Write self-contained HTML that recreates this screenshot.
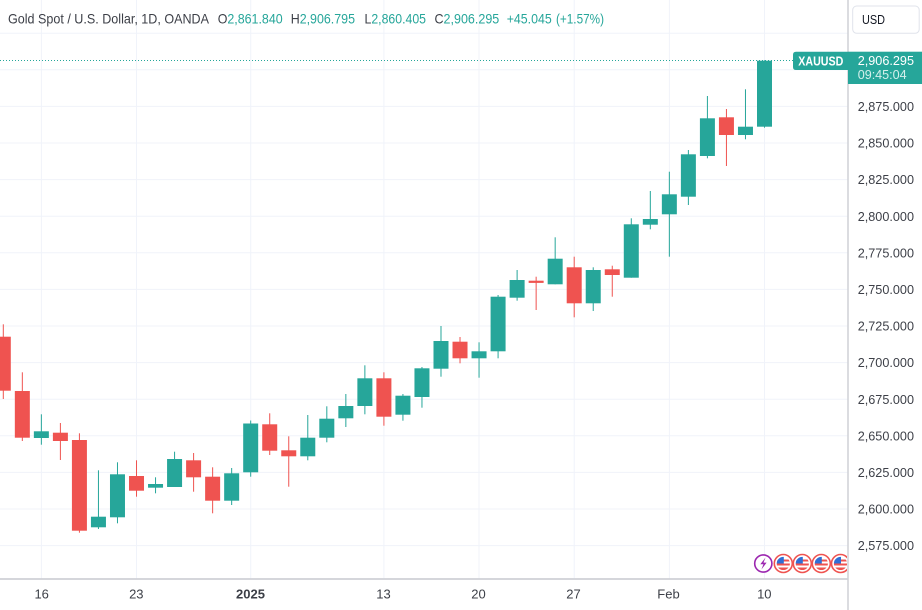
<!DOCTYPE html>
<html><head><meta charset="utf-8">
<style>
html,body{margin:0;padding:0;background:#fff;}
svg{display:block;font-family:"Liberation Sans","DejaVu Sans",sans-serif;}
</style></head>
<body>
<svg width="922" height="610" viewBox="0 0 922 610" xmlns="http://www.w3.org/2000/svg">
<rect x="0" y="0" width="922" height="610" fill="#ffffff"/>
<defs>
<clipPath id="pane"><rect x="0" y="0" width="848" height="579"/></clipPath>
<clipPath id="fc"><circle cx="0" cy="0" r="6.6"/></clipPath>
<clipPath id="flagclip"><rect x="0" y="540" width="847" height="40"/></clipPath>
</defs>

<!-- grid -->
<g stroke="#f0f3fa" stroke-width="1">
<line x1="0" y1="33.2" x2="848" y2="33.2"/>
<line x1="0" y1="69.8" x2="848" y2="69.8"/>
<line x1="0" y1="106.4" x2="848" y2="106.4"/>
<line x1="0" y1="143" x2="848" y2="143"/>
<line x1="0" y1="179.6" x2="848" y2="179.6"/>
<line x1="0" y1="216.2" x2="848" y2="216.2"/>
<line x1="0" y1="252.8" x2="848" y2="252.8"/>
<line x1="0" y1="289.4" x2="848" y2="289.4"/>
<line x1="0" y1="326" x2="848" y2="326"/>
<line x1="0" y1="362.6" x2="848" y2="362.6"/>
<line x1="0" y1="399.2" x2="848" y2="399.2"/>
<line x1="0" y1="435.8" x2="848" y2="435.8"/>
<line x1="0" y1="472.4" x2="848" y2="472.4"/>
<line x1="0" y1="509" x2="848" y2="509"/>
<line x1="0" y1="545.6" x2="848" y2="545.6"/>
<line x1="41.4" y1="0" x2="41.4" y2="579"/>
<line x1="136.5" y1="0" x2="136.5" y2="579"/>
<line x1="250.7" y1="0" x2="250.7" y2="579"/>
<line x1="383.9" y1="0" x2="383.9" y2="579"/>
<line x1="479" y1="0" x2="479" y2="579"/>
<line x1="574.2" y1="0" x2="574.2" y2="579"/>
<line x1="669.4" y1="0" x2="669.4" y2="579"/>
<line x1="764.5" y1="0" x2="764.5" y2="579"/>
</g>

<!-- last price dotted line -->
<line x1="0" y1="60.5" x2="793" y2="60.5" stroke="#26a69a" stroke-width="1" stroke-dasharray="1 2"/>

<g clip-path="url(#pane)">
<!-- red candles -->
<g fill="#ef5350">
<rect x="2.8" y="324.3" width="1" height="74.7"/><rect x="-4.2" y="336.7" width="15" height="54"/>
<rect x="21.83" y="372.3" width="1" height="68.7"/><rect x="14.83" y="391" width="15" height="46.7"/>
<rect x="59.89" y="423" width="1" height="37"/><rect x="52.89" y="432.7" width="15" height="8.3"/>
<rect x="78.92" y="433.3" width="1" height="99.4"/><rect x="71.92" y="440" width="15" height="90.7"/>
<rect x="136.01" y="460.3" width="1" height="36.4"/><rect x="129.01" y="476" width="15" height="14.7"/>
<rect x="193.1" y="453" width="1" height="38.7"/><rect x="186.1" y="460.3" width="15" height="17"/>
<rect x="212.13" y="467.3" width="1" height="46"/><rect x="205.13" y="476.7" width="15" height="24"/>
<rect x="269.22" y="413.3" width="1" height="41.7"/><rect x="262.22" y="424.3" width="15" height="26.4"/>
<rect x="288.25" y="436.3" width="1" height="50.4"/><rect x="281.25" y="450.3" width="15" height="6"/>
<rect x="383.4" y="372.3" width="1" height="53.4"/><rect x="376.4" y="378.3" width="15" height="38.4"/>
<rect x="459.52" y="337" width="1" height="26.3"/><rect x="452.52" y="341.7" width="15" height="16.6"/>
<rect x="535.64" y="276.7" width="1" height="33.3"/><rect x="528.64" y="280.7" width="15" height="2.2"/>
<rect x="573.7" y="256.7" width="1" height="60.6"/><rect x="566.7" y="267.3" width="15" height="36"/>
<rect x="611.76" y="265.7" width="1" height="31"/><rect x="604.76" y="269.3" width="15" height="5.7"/>
<rect x="725.94" y="109" width="1" height="57"/><rect x="718.94" y="117.3" width="15" height="17.7"/>
</g>
<!-- green candles -->
<g fill="#26a69a">
<rect x="40.86" y="414.3" width="1" height="30.4"/><rect x="33.86" y="431.3" width="15" height="6.7"/>
<rect x="97.95" y="470.3" width="1" height="58.7"/><rect x="90.95" y="516.7" width="15" height="10.6"/>
<rect x="116.98" y="462.3" width="1" height="61"/><rect x="109.98" y="474.3" width="15" height="43"/>
<rect x="155.04" y="477.3" width="1" height="16"/><rect x="148.04" y="484" width="15" height="3.7"/>
<rect x="174.07" y="451.7" width="1" height="35.3"/><rect x="167.07" y="459" width="15" height="28"/>
<rect x="231.16" y="468" width="1" height="37"/><rect x="224.16" y="473.3" width="15" height="27.4"/>
<rect x="250.19" y="420.5" width="1" height="56.2"/><rect x="243.19" y="423.5" width="15" height="48.8"/>
<rect x="307.28" y="415" width="1" height="45.3"/><rect x="300.28" y="437.7" width="15" height="18.6"/>
<rect x="326.31" y="406.3" width="1" height="36"/><rect x="319.31" y="418.7" width="15" height="19"/>
<rect x="345.34" y="394" width="1" height="33"/><rect x="338.34" y="406" width="15" height="12.3"/>
<rect x="364.37" y="365.3" width="1" height="49"/><rect x="357.37" y="378.3" width="15" height="27.7"/>
<rect x="402.43" y="394" width="1" height="26.7"/><rect x="395.43" y="395.7" width="15" height="19"/>
<rect x="421.46" y="367" width="1" height="40.7"/><rect x="414.46" y="368.3" width="15" height="28.7"/>
<rect x="440.49" y="326" width="1" height="50.7"/><rect x="433.49" y="341" width="15" height="27.7"/>
<rect x="478.55" y="342.3" width="1" height="35.4"/><rect x="471.55" y="351.3" width="15" height="7"/>
<rect x="497.58" y="295" width="1" height="63.3"/><rect x="490.58" y="296.7" width="15" height="54.6"/>
<rect x="516.61" y="270" width="1" height="30.7"/><rect x="509.61" y="280" width="15" height="17.7"/>
<rect x="554.67" y="237.3" width="1" height="47"/><rect x="547.67" y="258.7" width="15" height="25.6"/>
<rect x="592.73" y="267.3" width="1" height="43.7"/><rect x="585.73" y="270" width="15" height="33.3"/>
<rect x="630.79" y="218.3" width="1" height="59.4"/><rect x="623.79" y="224.3" width="15" height="53.4"/>
<rect x="649.82" y="191" width="1" height="38.3"/><rect x="642.82" y="219" width="15" height="5.7"/>
<rect x="668.85" y="171.7" width="1" height="85"/><rect x="661.85" y="194.3" width="15" height="20"/>
<rect x="687.88" y="150" width="1" height="55"/><rect x="680.88" y="154.3" width="15" height="42.4"/>
<rect x="706.91" y="96" width="1" height="62.3"/><rect x="699.91" y="118.3" width="15" height="37.7"/>
<rect x="744.97" y="89.3" width="1" height="50"/><rect x="737.97" y="126.7" width="15" height="8.3"/>
<rect x="764" y="60.3" width="1" height="67.4"/><rect x="757" y="60.7" width="15" height="66"/>
</g>
</g>

<!-- event icons -->
<g>
<circle cx="763.3" cy="563.5" r="8.6" fill="#fff" stroke="#9c27b0" stroke-width="1.6"/>
<path d="M765.5 557.5 L760.3 564.3 L763.4 564.3 L761.4 569.5 L766.6 562.6 L763.5 562.6 Z" fill="#9c27b0"/>
</g>
<g clip-path="url(#flagclip)">
<g transform="translate(783.3,563.5)">
<circle r="9" fill="#fff" stroke="#ef5350" stroke-width="1.6"/>
<g clip-path="url(#fc)"><rect x="-7" y="-7" width="14" height="14" fill="#fff"/><rect x="-7" y="-4" width="14" height="2" fill="#ef5350"/><rect x="-7" y="0" width="14" height="2" fill="#ef5350"/><rect x="-7" y="4" width="14" height="2.5" fill="#ef5350"/><rect x="-7" y="-7" width="7.5" height="7" fill="#2f6fd6"/></g>
</g>
<g transform="translate(802.3,563.5)">
<circle r="9" fill="#fff" stroke="#ef5350" stroke-width="1.6"/>
<g clip-path="url(#fc)"><rect x="-7" y="-7" width="14" height="14" fill="#fff"/><rect x="-7" y="-4" width="14" height="2" fill="#ef5350"/><rect x="-7" y="0" width="14" height="2" fill="#ef5350"/><rect x="-7" y="4" width="14" height="2.5" fill="#ef5350"/><rect x="-7" y="-7" width="7.5" height="7" fill="#2f6fd6"/></g>
</g>
<g transform="translate(821.3,563.5)">
<circle r="9" fill="#fff" stroke="#ef5350" stroke-width="1.6"/>
<g clip-path="url(#fc)"><rect x="-7" y="-7" width="14" height="14" fill="#fff"/><rect x="-7" y="-4" width="14" height="2" fill="#ef5350"/><rect x="-7" y="0" width="14" height="2" fill="#ef5350"/><rect x="-7" y="4" width="14" height="2.5" fill="#ef5350"/><rect x="-7" y="-7" width="7.5" height="7" fill="#2f6fd6"/></g>
</g>
<g transform="translate(840.5,563.5)">
<circle r="9" fill="#fff" stroke="#ef5350" stroke-width="1.6"/>
<g clip-path="url(#fc)"><rect x="-7" y="-7" width="14" height="14" fill="#fff"/><rect x="-7" y="-4" width="14" height="2" fill="#ef5350"/><rect x="-7" y="0" width="14" height="2" fill="#ef5350"/><rect x="-7" y="4" width="14" height="2.5" fill="#ef5350"/><rect x="-7" y="-7" width="7.5" height="7" fill="#2f6fd6"/></g>
</g>
</g>

<!-- separators -->
<line x1="848" y1="0" x2="848" y2="610" stroke="#cfd1d6" stroke-width="1.5"/>
<line x1="0" y1="579" x2="848" y2="579" stroke="#cfd1d6" stroke-width="1.8"/>

<!-- header -->
<g font-size="14">
<text x="8" y="23.3" fill="#3c3f47" textLength="201" lengthAdjust="spacingAndGlyphs">Gold Spot / U.S. Dollar, 1D, OANDA</text>
<text x="217.7" y="23.3" textLength="65" lengthAdjust="spacingAndGlyphs"><tspan fill="#3c3f47">O</tspan><tspan fill="#26a69a">2,861.840</tspan></text>
<text x="290.7" y="23.3" textLength="64.3" lengthAdjust="spacingAndGlyphs"><tspan fill="#3c3f47">H</tspan><tspan fill="#26a69a">2,906.795</tspan></text>
<text x="364.5" y="23.3" textLength="61.5" lengthAdjust="spacingAndGlyphs"><tspan fill="#3c3f47">L</tspan><tspan fill="#26a69a">2,860.405</tspan></text>
<text x="434.5" y="23.3" textLength="64.8" lengthAdjust="spacingAndGlyphs"><tspan fill="#3c3f47">C</tspan><tspan fill="#26a69a">2,906.295</tspan></text>
<text x="506.7" y="23.3" fill="#26a69a" textLength="45" lengthAdjust="spacingAndGlyphs">+45.045</text>
<text x="556" y="23.3" fill="#26a69a" textLength="48" lengthAdjust="spacingAndGlyphs">(+1.57%)</text>
</g>

<!-- price axis labels -->
<g font-size="13" fill="#3c3f47">
<text x="857.7" y="111" textLength="56.3" lengthAdjust="spacingAndGlyphs">2,875.000</text>
<text x="857.7" y="147.6" textLength="56.3" lengthAdjust="spacingAndGlyphs">2,850.000</text>
<text x="857.7" y="184.2" textLength="56.3" lengthAdjust="spacingAndGlyphs">2,825.000</text>
<text x="857.7" y="220.8" textLength="56.3" lengthAdjust="spacingAndGlyphs">2,800.000</text>
<text x="857.7" y="257.4" textLength="56.3" lengthAdjust="spacingAndGlyphs">2,775.000</text>
<text x="857.7" y="294" textLength="56.3" lengthAdjust="spacingAndGlyphs">2,750.000</text>
<text x="857.7" y="330.6" textLength="56.3" lengthAdjust="spacingAndGlyphs">2,725.000</text>
<text x="857.7" y="367.2" textLength="56.3" lengthAdjust="spacingAndGlyphs">2,700.000</text>
<text x="857.7" y="403.8" textLength="56.3" lengthAdjust="spacingAndGlyphs">2,675.000</text>
<text x="857.7" y="440.4" textLength="56.3" lengthAdjust="spacingAndGlyphs">2,650.000</text>
<text x="857.7" y="477" textLength="56.3" lengthAdjust="spacingAndGlyphs">2,625.000</text>
<text x="857.7" y="513.6" textLength="56.3" lengthAdjust="spacingAndGlyphs">2,600.000</text>
<text x="857.7" y="550.2" textLength="56.3" lengthAdjust="spacingAndGlyphs">2,575.000</text>
</g>

<!-- USD box -->
<rect x="852.7" y="6" width="66.5" height="27.3" rx="4" fill="#ffffff" stroke="#e0e3eb" stroke-width="1"/>
<text x="862" y="24.2" font-size="13" fill="#131722" textLength="23" lengthAdjust="spacingAndGlyphs">USD</text>

<!-- last price labels -->
<path d="M796 51.7 H848 V70 H796 Q793 70 793 67 V54.7 Q793 51.7 796 51.7 Z" fill="#26a69a"/>
<text x="798.3" y="65.3" font-size="12.5" font-weight="bold" fill="#ffffff" textLength="45" lengthAdjust="spacingAndGlyphs">XAUUSD</text>
<rect x="848" y="51.7" width="74" height="32.3" fill="#26a69a"/>
<text x="857.7" y="65" font-size="13" fill="#ffffff" textLength="56.3" lengthAdjust="spacingAndGlyphs">2,906.295</text>
<text x="857.7" y="79" font-size="13" fill="#d4f0ec" textLength="49" lengthAdjust="spacingAndGlyphs">09:45:04</text>

<!-- time axis -->
<g font-size="13" fill="#3c3f47" text-anchor="middle">
<text x="41.7" y="598.7">16</text>
<text x="136.3" y="598.7">23</text>
<text x="250.5" y="598.7" font-weight="bold">2025</text>
<text x="383.5" y="598.7">13</text>
<text x="478.5" y="598.7">20</text>
<text x="573.5" y="598.7">27</text>
<text x="668.5" y="598.7">Feb</text>
<text x="764.3" y="598.7">10</text>
</g>
</svg>
</body></html>
